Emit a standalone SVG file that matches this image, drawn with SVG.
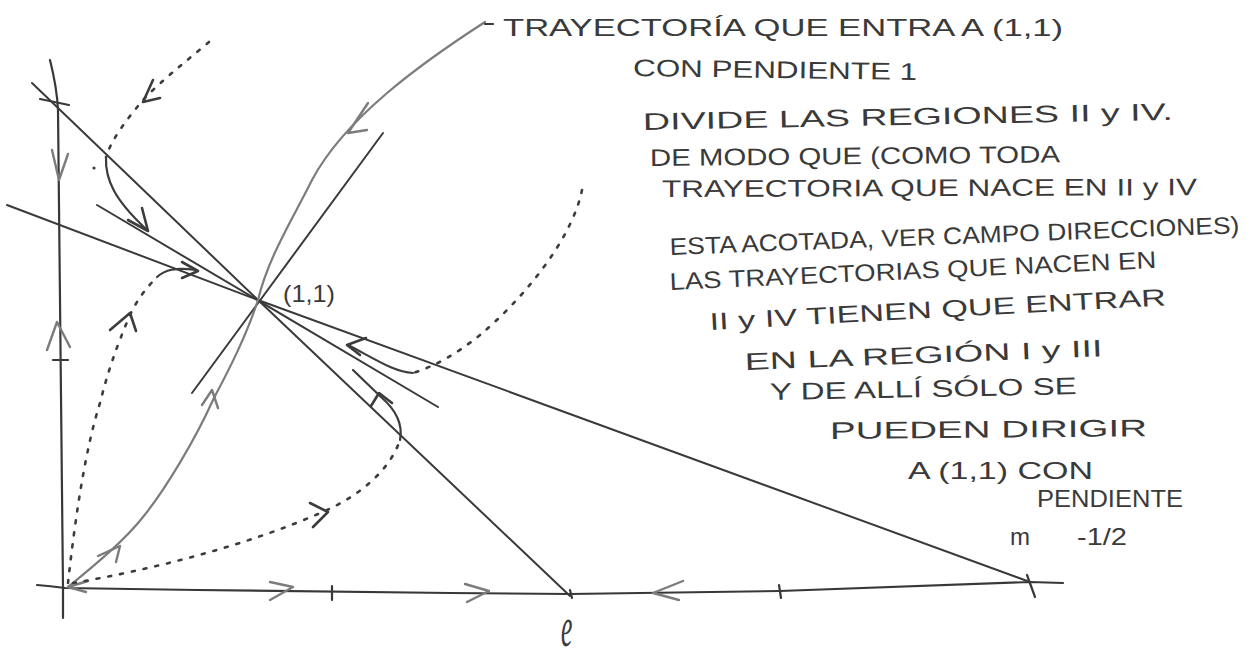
<svg xmlns="http://www.w3.org/2000/svg" width="1259" height="658" viewBox="0 0 1259 658">
<style>
.ax{fill:none;stroke:#383838;stroke-width:2.2;stroke-linecap:round;stroke-linejoin:round}
.ln{fill:none;stroke:#3a3a3a;stroke-width:2;stroke-linecap:round}
.gr{fill:none;stroke:#7c7c7c;stroke-width:2.2;stroke-linecap:round;stroke-linejoin:round}
.dt{fill:none;stroke:#3c3c3c;stroke-width:2.6;stroke-linecap:round;stroke-dasharray:3 9}
.sd{fill:none;stroke:#3c3c3c;stroke-width:2.2;stroke-linecap:round;stroke-linejoin:round}
.ah{fill:none;stroke:#3c3c3c;stroke-width:2.6;stroke-linecap:round;stroke-linejoin:round}
.ag{fill:none;stroke:#7c7c7c;stroke-width:2.4;stroke-linecap:round;stroke-linejoin:round}
.tx{font-family:"Liberation Sans",Arial,sans-serif;font-size:24px;fill:#3a3a3a}
</style>
<rect width="1259" height="658" fill="#ffffff"/>
<g id="axes">
<path class="ax" d="M50,60 Q57,88 58,110 L60,300 L63,588 L63,618"/>
<path class="ax" d="M40,99 L69,105"/>
<path class="ax" d="M53,360 L68,360"/>
<path class="ag" d="M52,150 L59,180 L68,154"/>
<path class="ag" d="M47,350 L57,322 L70,347"/>
<path class="ax" d="M37,585 Q50,586 65,588 L197,590 L450,593 L570,594 L780,591 L1030,582 L1063,583"/>
<path class="ax" d="M332,586 L332,600"/>
<path class="ax" d="M779,585 L781,598"/>
<path class="ax" d="M1027,575 L1035,597"/>
<path class="ax" d="M570,590 L572,598"/>
<path class="ag" d="M270,582 L293,587 L270,600"/>
<path class="ag" d="M465,584 L489,591 L467,602"/>
<path class="ag" d="M683,581 L653,593 L679,600"/>
</g>
<g id="connectors">
<path id="lineA" class="ln" d="M32,83 L258,300 L570,596"/>
<path id="lineB" class="ln" d="M7,205 L258,300 L1030,582"/>
<path id="lineC" class="ln" d="M97,205 L438,407"/>
<path id="lineD" class="ln" d="M383,133 L192,393"/>
<path id="separatrix" class="gr" d="M485,22 C420,64 345,118 312,180 C292,220 268,258 258,300 C245,340 226,375 213,400 C195,440 165,490 143,517 C125,540 95,565 68,587"/>
<path class="ag" d="M368,103 L348,133 L367,130"/>
<path class="ag" d="M202,405 L212,390 L218,408"/>
<path class="ag" d="M98,556 L120,546 L116,562"/>
<path class="ag" d="M88,581 L68,587 L86,592"/>
<path class="dt" d="M209,42 C185,62 160,82 143,100 C128,118 112,138 106,157"/>
<path class="sd" d="M106,157 C105,180 115,200 146,229"/>
<path class="ah" d="M153,80 L143,102 L160,98"/>
<path class="ah" d="M142,208 L148,231 L128,220"/>
<circle cx="94" cy="168" r="1.6" fill="#3c3c3c"/>
<path class="dt" d="M68,583 C75,520 85,450 100,403 C107,375 115,350 130,315 C137,300 146,288 157,277"/>
<path class="sd" d="M157,277 C165,270 175,267 196,270"/>
<path class="ah" d="M110,330 L130,313 L136,331"/>
<path class="ah" d="M182,262 L198,271 L182,278"/>
<path class="dt" d="M73,583 C150,570 250,545 327,510 C360,495 390,470 400,440"/>
<path class="sd" d="M400,440 C403,425 396,410 381,397 L353,370"/>
<path class="ah" d="M310,503 L328,512 L313,527"/>
<path class="ah" d="M371,406 L379,393 L392,403"/>
<path class="dt" d="M582,190 C572,240 522,300 480,335 C455,355 435,366 413,373"/>
<path class="sd" d="M413,373 C395,372 380,362 350,346"/>
<path class="ah" d="M366,338 L347,345 L360,355"/>
</g>
<g id="point-label">
<text class="tx" x="283" y="302" font-size="18" textLength="52" lengthAdjust="spacingAndGlyphs">(1,1)</text>
</g>
<g id="axis-label">
<text transform="translate(561,646) scale(0.75,1.7)" font-family="Liberation Serif,serif" font-style="italic" font-size="34" fill="#3a3a3a">e</text>
</g>
<g id="note">
<path class="ax" d="M485,24 L493,24"/>
<text class="tx" x="503" y="36" textLength="560" lengthAdjust="spacingAndGlyphs">TRAYECTORÍA QUE ENTRA A (1,1)</text>
<text class="tx" transform="translate(633,76) rotate(0.8)" textLength="284" lengthAdjust="spacingAndGlyphs">CON PENDIENTE 1</text>
<text class="tx" transform="translate(643,130) rotate(-1.1)" textLength="530" lengthAdjust="spacingAndGlyphs">DIVIDE LAS REGIONES II y IV.</text>
<text class="tx" transform="translate(650,166) rotate(-0.5)" textLength="410" lengthAdjust="spacingAndGlyphs">DE MODO QUE (COMO TODA</text>
<text class="tx" transform="translate(662,197) rotate(-0.2)" textLength="535" lengthAdjust="spacingAndGlyphs">TRAYECTORIA QUE NACE EN II y IV</text>
<text class="tx" transform="translate(670,255) rotate(-2.2)" textLength="570" lengthAdjust="spacingAndGlyphs">ESTA ACOTADA, VER CAMPO DIRECCIONES)</text>
<text class="tx" transform="translate(670,290) rotate(-2.6)" textLength="487" lengthAdjust="spacingAndGlyphs">LAS TRAYECTORIAS QUE NACEN EN</text>
<text class="tx" transform="translate(710,330) rotate(-3.1)" textLength="457" lengthAdjust="spacingAndGlyphs">II y IV TIENEN QUE ENTRAR</text>
<text class="tx" transform="translate(745,370) rotate(-2.2)" textLength="358" lengthAdjust="spacingAndGlyphs">EN LA REGIÓN I y III</text>
<text class="tx" transform="translate(770,400) rotate(-1.1)" textLength="307" lengthAdjust="spacingAndGlyphs">Y DE ALLÍ SÓLO SE</text>
<text class="tx" transform="translate(830,439) rotate(-0.5)" textLength="317" lengthAdjust="spacingAndGlyphs">PUEDEN DIRIGIR</text>
<text class="tx" x="908" y="479" textLength="185" lengthAdjust="spacingAndGlyphs">A (1,1) CON</text>
<text class="tx" x="1037" y="507" textLength="146" lengthAdjust="spacingAndGlyphs">PENDIENTE</text>
<text class="tx" x="1010" y="545">m</text>
<text class="tx" x="1077" y="545" textLength="50" lengthAdjust="spacingAndGlyphs">-1/2</text>
</g>
</svg>
